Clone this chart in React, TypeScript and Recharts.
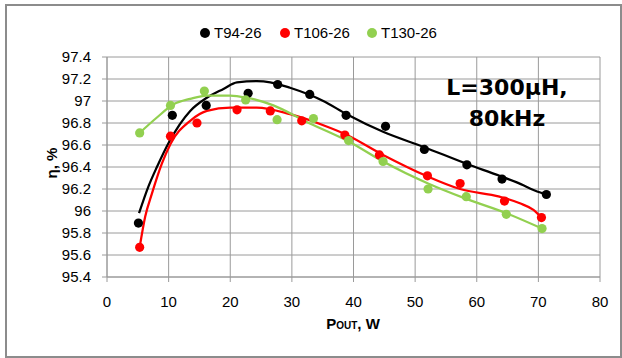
import React from "react";
import {
  ComposedChart, Scatter, Line, XAxis, YAxis, ReferenceLine,
} from "recharts";

// measured points (P_OUT in W, efficiency in %)
const t94X = [5.1, 10.6, 16.1, 22.9, 27.7, 32.9, 38.8, 45.2, 51.5, 58.4, 64.1, 71.3];
const t94Y = [95.89, 96.87, 96.96, 97.07, 97.15, 97.06, 96.87, 96.77, 96.56, 96.42, 96.29, 96.15];

const t106X = [5.3, 10.3, 14.6, 21.1, 26.5, 31.6, 38.6, 44.2, 52.0, 57.3, 64.5, 70.5];
const t106Y = [95.67, 96.68, 96.80, 96.92, 96.91, 96.82, 96.69, 96.51, 96.32, 96.25, 96.09, 95.94];

const t130X = [5.3, 10.3, 15.8, 22.5, 27.6, 33.5, 39.2, 44.8, 52.1, 58.3, 64.8, 70.6];
const t130Y = [96.71, 96.96, 97.09, 97.01, 96.83, 96.84, 96.64, 96.45, 96.20, 96.13, 95.97, 95.84];

// trend curves
const t94TrendX = [5.2, 6.7, 8.1, 10.1, 13.5, 16.2, 18.9, 21.1, 24.3, 26.5, 29.7, 35.1, 38.9, 44.8, 51.5, 58.3, 63.7, 66.5, 70.2, 71.3];
const t94TrendY = [95.98, 96.22, 96.40, 96.63, 96.91, 97.03, 97.11, 97.17, 97.18, 97.17, 97.12, 97.0, 96.88, 96.72, 96.58, 96.43, 96.32, 96.26, 96.17, 96.15];

const t106TrendX = [5.3, 6.2, 7.3, 8.9, 10.3, 13.5, 16.2, 20.0, 24.3, 29.7, 35.1, 38.6, 44.8, 51.8, 57.3, 63.7, 67.0, 69.2, 70.5];
const t106TrendY = [95.67, 95.95, 96.16, 96.43, 96.61, 96.82, 96.91, 96.94, 96.94, 96.88, 96.78, 96.70, 96.51, 96.32, 96.20, 96.13, 96.07, 96.01, 95.94];

const t130TrendX = [5.3, 8.1, 10.8, 13.5, 16.2, 20.0, 22.7, 27.0, 32.4, 39.3, 44.8, 52.1, 58.3, 64.8, 70.6];
const t130TrendY = [96.71, 96.85, 96.97, 97.02, 97.05, 97.05, 97.03, 96.96, 96.81, 96.63, 96.45, 96.25, 96.11, 95.98, 95.84];

const xTicks = [0, 10, 20, 30, 40, 50, 60, 70, 80];
const yTicks = [95.4, 95.6, 95.8, 96, 96.2, 96.4, 96.6, 96.8, 97, 97.2, 97.4];

const seriesNames = ["T94-26", "T106-26", "T130-26"];
const colors = ["#000000", "#ff0000", "#92d050"];
const legendLeft = [200, 280, 367];

const toPts = (xs: number[], ys: number[]) => xs.map((x, i) => ({ x, y: ys[i] }));

const points = [toPts(t94X, t94Y), toPts(t106X, t106Y), toPts(t130X, t130Y)];
const trends = [
  toPts(t94TrendX, t94TrendY),
  toPts(t106TrendX, t106TrendY),
  toPts(t130TrendX, t130TrendY),
];

const font = "'Liberation Sans', Arial, sans-serif";
const gridColor = "#9a9a9a";

const dot = (color: string) => (props: any) =>
  <circle cx={props.cx} cy={props.cy} r={4.6} fill={color} />;

export default function App() {
  return (
    <div style={{ position: "absolute", left: 0, top: 0, width: 622, height: 358, background: "#fff", fontFamily: font }}>
      <div style={{ position: "absolute", left: 5, top: 4, width: 617, height: 354, border: "2px solid #8c8c8c", boxSizing: "border-box" }} />

      <ComposedChart width={622} height={358} margin={{ top: 57, right: 22, bottom: 51, left: 47 }}>
        <XAxis
          type="number" dataKey="x" domain={[0, 80]} ticks={xTicks} height={30} interval={0}
          tick={{ fill: "#000", fontSize: 15, fontFamily: font }} tickSize={5} tickMargin={14}
          axisLine={{ stroke: gridColor }} tickLine={{ stroke: gridColor }} allowDataOverflow
        />
        <YAxis
          type="number" dataKey="y" domain={[95.4, 97.4]} ticks={yTicks} width={60} interval={0}
          tick={{ fill: "#000", fontSize: 15, fontFamily: font }} tickSize={5} tickMargin={11}
          axisLine={{ stroke: gridColor }} tickLine={{ stroke: gridColor }} allowDataOverflow
          tickFormatter={(v: number) => String(Number(v.toFixed(1)))}
        />
        {/* gridlines */}
        {xTicks.map((v) => (
          <ReferenceLine key={"gx" + v} x={v} stroke={gridColor} strokeWidth={1} />
        ))}
        {yTicks.map((v) => (
          <ReferenceLine key={"gy" + v} y={v} stroke={gridColor} strokeWidth={1} />
        ))}
        {points.map((p, i) => (
          <Scatter key={"s" + i} data={p} fill={colors[i]} shape={dot(colors[i])} isAnimationActive={false} />
        ))}
        {trends.map((t, i) => (
          <Line
            key={"l" + i} data={t} dataKey="y" type="monotone" stroke={colors[i]}
            strokeWidth={2.25} dot={false} activeDot={false} isAnimationActive={false}
          />
        ))}
      </ComposedChart>

      {/* legend */}
      {seriesNames.map((n, i) => (
        <div key={n} style={{ position: "absolute", top: 24, left: legendLeft[i], display: "flex", alignItems: "center", fontSize: 15, color: "#000" }}>
          <span style={{ width: 10, height: 10, borderRadius: 5, background: colors[i], display: "inline-block", marginRight: 4 }} />
          <span>{n}</span>
        </div>
      ))}

      {/* annotation */}
      <div style={{ position: "absolute", left: 427, top: 72, width: 160, textAlign: "center", fontFamily: "'DejaVu Sans', sans-serif", fontWeight: "bold", fontSize: 22, lineHeight: "31px", color: "#000" }}>
        L=300μH,<br />80kHz
      </div>

      {/* axis titles */}
      <div style={{ position: "absolute", left: 51, top: 163, transform: "translate(-50%, -50%) rotate(-90deg)", fontWeight: "bold", fontSize: 15, whiteSpace: "nowrap" }}>
        η, %
      </div>
      <div style={{ position: "absolute", left: 353, top: 323, transform: "translate(-50%, -50%)", fontWeight: "bold", fontSize: 15, whiteSpace: "nowrap" }}>
        P<span style={{ fontSize: 10 }}>OUT</span>, W
      </div>
    </div>
  );
}
